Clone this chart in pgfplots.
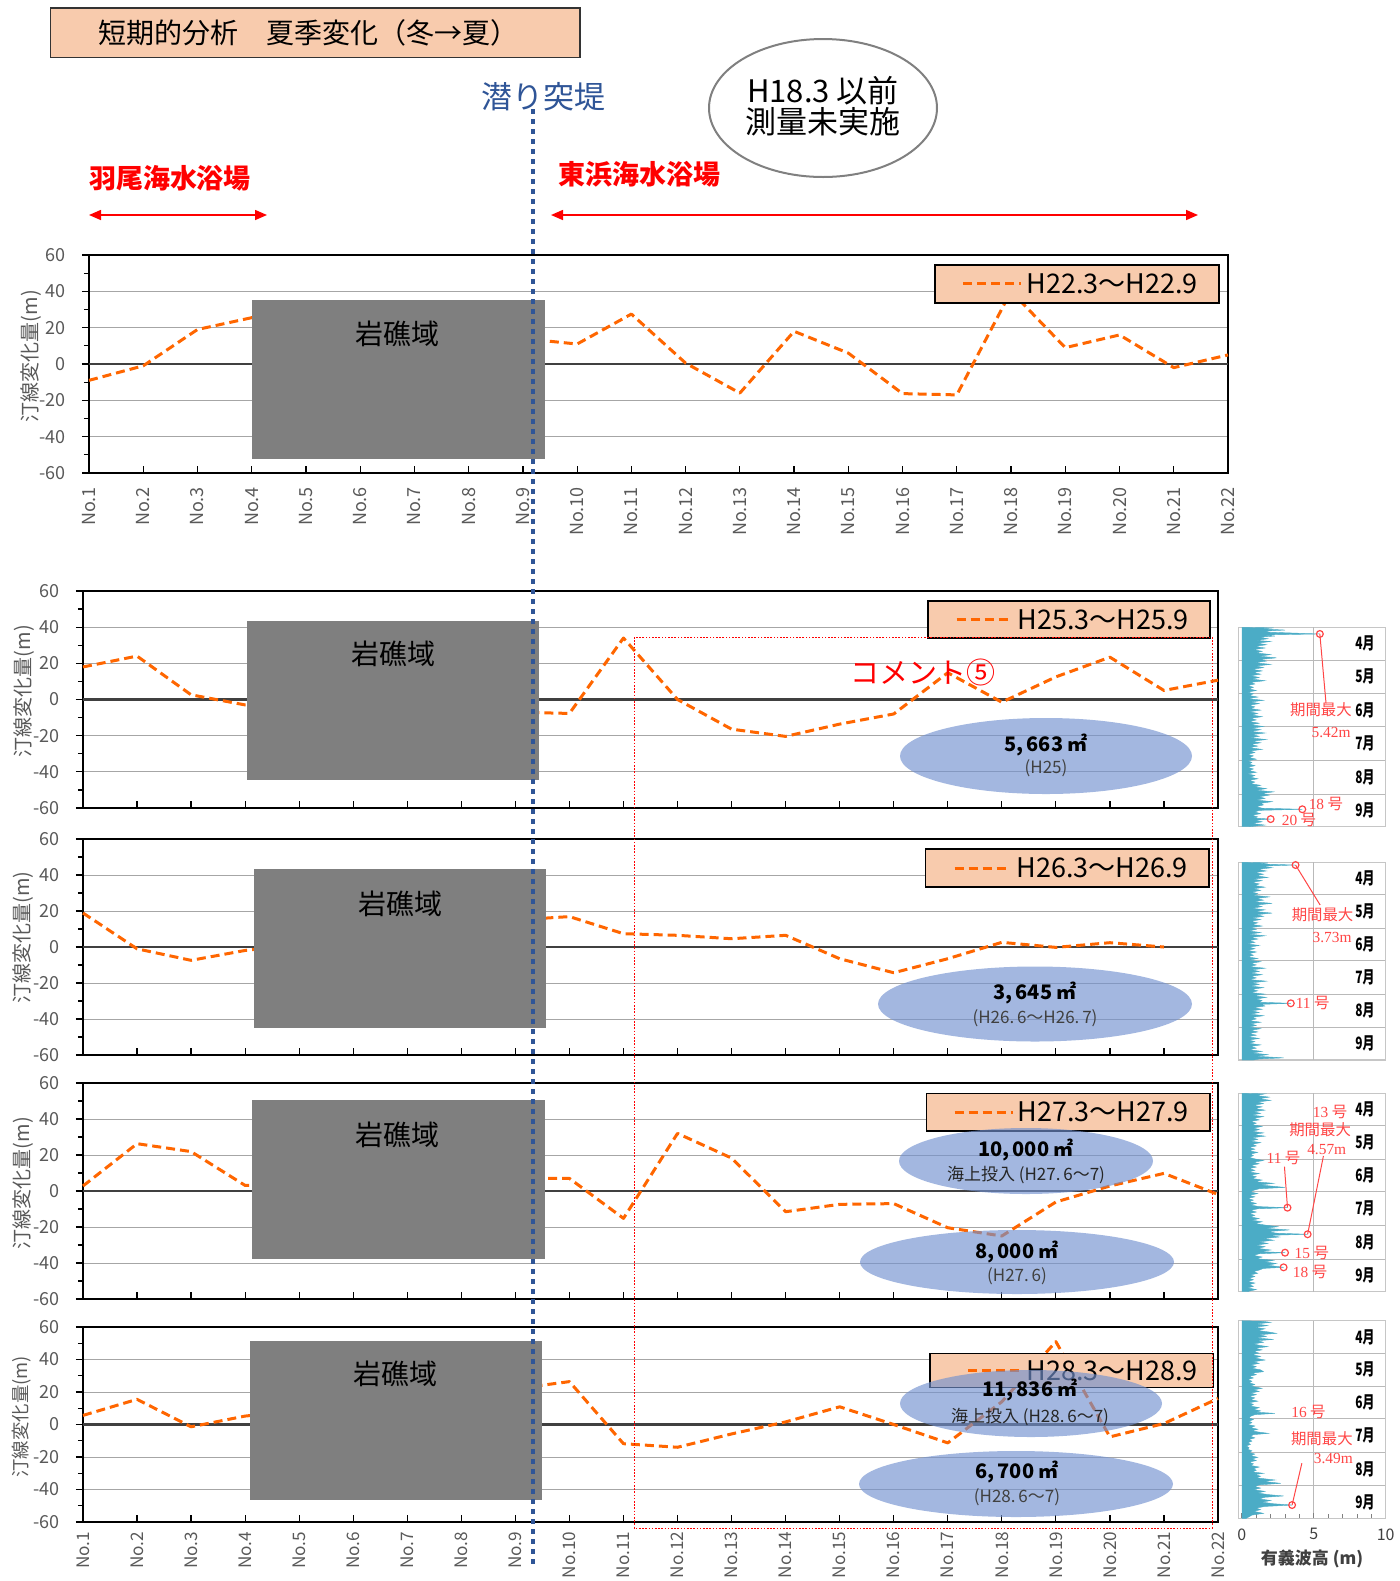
\documentclass[border=0pt]{standalone}
\usepackage{fontspec}
\usepackage{graphicx}
\usepackage{pgfplots}
\pgfplotsset{compat=1.18}
\usepackage{pgfplotstable}
\usetikzlibrary{arrows.meta}
\setmainfont{Noto Sans CJK JP}
\newfontfamily\tnr{Liberation Serif}
\newcommand{\fs}[1]{\fontsize{#1}{#1}\selectfont}

\definecolor{lineorange}{RGB}{255,102,0}
\definecolor{peach}{RGB}{248,203,173}
\definecolor{reefgray}{RGB}{127,127,127}
\definecolor{jetty}{RGB}{47,85,151}
\definecolor{ticktext}{RGB}{89,89,89}
\definecolor{gridgray}{RGB}{166,166,166}
\definecolor{zeroline}{RGB}{64,64,64}
\definecolor{sandblue}{RGB}{114,145,207}
\definecolor{wavecol}{RGB}{75,172,198}
\definecolor{note}{RGB}{255,70,70}
\definecolor{darktext}{RGB}{64,64,64}

% ---------- shoreline change (m) at survey lines No.1 - No.22 ----------
\pgfplotstableread{
no dy
1 -9
2 -1
3 19
4 25.5
9 14
10 11
11 27.5
12 0.5
13 -16
14 18
15 6
16 -16.3
17 -17
18 40
19 9
20 16
21 -2
22 5
}\shoreA
\pgfplotstableread{
no dy
1 18
2 24
3 2.6
4 -3
9 -7
10 -7.7
11 34
12 0
13 -16.4
14 -20.4
15 -13.6
16 -8
17 14.8
18 -1.5
19 12.5
20 23.4
21 5
22 10.7
}\shoreB
\pgfplotstableread{
no dy
1 18.9
2 -1
3 -7.4
4 -1.9
9 15
10 16.9
11 7.4
12 6.5
13 4.6
14 6.5
15 -6.5
16 -14.3
17 -6.5
18 2.6
19 -0.2
20 2.4
21 0
}\shoreC
\pgfplotstableread{
no dy
1 2.8
2 26.3
3 21.9
4 3.1
9 6.9
10 7
11 -15.2
12 32
13 18.3
14 -11.5
15 -7.4
16 -7
17 -20.4
18 -25
19 -6.1
20 2.8
21 9.8
22 -1.9
}\shoreD
\pgfplotstableread{
no dy
1 5.6
2 15.5
3 -1.4
4 5.2
9 22
10 26.4
11 -11.8
12 -14
13 -5.8
14 1.6
15 10.9
16 0
17 -11.3
18 14
19 51
20 -7.6
21 0.6
22 16
}\shoreE

% ---------- significant wave height (m), day counted from 1 April ----------
\pgfplotstableread[row sep=\\]{
d h\\ 0 0\\ 0.5 2.2\\ 1.5 1.4\\ 2.5 3.0\\ 3.5 1.6\\ 4.5 1.9\\ 6.1 5.42\\ 7 1.5\\ 8 2.3\\ 9 1.2\\ 10.5 1.8\\ 12 1.0\\ 13 2.0\\ 14.5 1.1\\ 16 1.7\\ 17.5 0.9\\ 19 1.6\\ 20.5 0.8\\ 22 1.4\\ 23.5 1.0\\ 25 2.0\\ 26.5 1.2\\ 28 2.4\\ 29.5 1.3\\
31 1.7\\ 32.5 0.9\\ 34 2.0\\ 35.5 1.0\\ 37 1.5\\ 38.5 0.7\\ 40 1.4\\ 41.5 0.8\\ 43 1.3\\ 44.5 0.6\\ 46 1.2\\ 47.5 0.7\\ 49 1.6\\ 50.5 0.6\\ 52 0.9\\ 53.5 0.4\\ 55 0.8\\ 56.5 0.5\\ 58 1.0\\ 59.5 0.4\\
61 0.8\\ 62.5 0.5\\ 64 1.1\\ 65.5 0.4\\ 67 1.5\\ 68.5 0.6\\ 70 1.2\\ 71.5 0.5\\ 73 0.9\\ 74.5 0.6\\ 76 1.3\\ 77.5 0.5\\ 79 1.1\\ 80.5 0.7\\ 82 1.4\\ 83.5 0.6\\ 85 1.0\\ 86.5 0.5\\ 88 1.2\\ 89.5 0.6\\
91 1.5\\ 92.5 0.7\\ 94 1.3\\ 95.5 0.6\\ 97 1.6\\ 98.5 0.7\\ 100 1.2\\ 101.5 0.6\\ 103 1.7\\ 104.5 0.7\\ 106 1.3\\ 107.5 0.6\\ 109 1.1\\ 110.5 0.5\\ 112 1.4\\ 113.5 0.6\\ 115 0.9\\ 116.5 0.4\\ 118 0.8\\ 119.5 0.5\\
121 1.0\\ 122.5 0.4\\ 124 0.7\\ 125.5 0.5\\ 127 0.9\\ 128.5 0.4\\ 130 0.8\\ 131.5 0.5\\ 133 1.0\\ 134.5 0.4\\ 136 0.9\\ 137.5 0.6\\ 139 1.1\\ 140.5 0.5\\ 142 0.9\\ 143.5 0.6\\ 145 1.3\\ 146.5 0.9\\ 148 1.7\\ 149.5 1.0\\ 151 2.2\\
152.5 1.4\\ 154 1.9\\ 155.5 1.2\\ 157 1.6\\ 158.5 1.0\\ 160 2.1\\ 161.5 1.3\\ 163 1.5\\ 164.5 1.0\\ 166 1.4\\ 167 4.2\\ 168 1.2\\ 169.5 0.9\\ 171 1.3\\ 172.5 0.7\\ 174 1.1\\ 175 0.8\\ 176 2.0\\ 177 0.9\\ 178.5 1.4\\ 180 0.7\\ 181.5 1.6\\ 183 0.5\\ 183 0\\
}\waveA
\pgfplotstableread[row sep=\\]{
d h\\ 0 0\\ 0.5 1.8\\ 1.5 1.2\\ 2.5 3.73\\ 3.5 1.4\\ 5 2.1\\ 6.5 1.1\\ 8 1.7\\ 9.5 0.9\\ 11 1.5\\ 12.5 1.0\\ 14 1.8\\ 15.5 0.8\\ 17 1.4\\ 18.5 0.7\\ 20 1.2\\ 21.5 0.9\\ 23 1.6\\ 24.5 0.8\\ 26 1.3\\ 27.5 0.7\\ 29 1.1\\
30.5 0.8\\ 32 1.9\\ 33.5 1.0\\ 35 1.5\\ 36.5 0.8\\ 38 2.1\\ 39.5 1.0\\ 41 1.4\\ 42.5 0.7\\ 44 1.6\\ 45.5 0.9\\ 47 2.1\\ 48.5 1.0\\ 50 1.5\\ 51.5 0.7\\ 53 1.3\\ 54.5 0.6\\ 56 1.1\\ 57.5 0.7\\ 59 1.4\\
60.5 0.6\\ 62 1.0\\ 63.5 0.5\\ 65 1.3\\ 66.5 0.5\\ 68 1.6\\ 69.5 0.6\\ 71 1.1\\ 72.5 0.5\\ 74 0.9\\ 75.5 0.4\\ 77 1.2\\ 78.5 0.5\\ 80 0.9\\ 81.5 0.4\\ 83 1.0\\ 84.5 0.5\\ 86 0.8\\ 87.5 0.4\\ 89 1.1\\
90.5 0.5\\ 92 1.3\\ 93.5 0.6\\ 95 1.0\\ 96.5 0.5\\ 98 1.6\\ 99.5 0.7\\ 101 1.2\\ 102.5 0.6\\ 104 1.4\\ 105.5 0.6\\ 107 1.0\\ 108.5 0.5\\ 110 1.7\\ 111.5 0.7\\ 113 1.2\\ 114.5 0.6\\ 116 1.5\\ 117.5 0.7\\ 119 1.1\\
120.5 0.6\\ 122 1.6\\ 123.5 0.8\\ 125 1.7\\ 126.5 1.0\\ 128 1.4\\ 129.5 1.2\\ 130.5 3.4\\ 131.5 1.3\\ 133 1.6\\ 134.5 0.8\\ 136 1.4\\ 137.5 0.7\\ 139 1.2\\ 140.5 0.6\\ 142 1.5\\ 143.5 0.7\\ 145 1.0\\ 146.5 0.5\\ 148 1.3\\ 149.5 0.6\\
151 1.0\\ 152.5 0.5\\ 154 1.3\\ 155.5 0.6\\ 157 1.1\\ 158.5 0.5\\ 160 1.0\\ 161.5 0.4\\ 163 1.2\\ 164.5 0.5\\ 166 0.9\\ 167.5 0.5\\ 169 1.3\\ 170.5 0.6\\ 172 1.0\\ 173.5 0.5\\ 175 1.4\\ 176.5 0.7\\ 178 1.8\\ 179.5 1.0\\ 181 2.9\\ 182 1.2\\ 183 0.8\\ 183 0\\
}\waveB
\pgfplotstableread[row sep=\\]{
d h\\ 0 0\\ 0.5 1.6\\ 2 1.0\\ 3.5 1.9\\ 5 1.2\\ 6.5 2.0\\ 8 1.1\\ 9.5 1.5\\ 11 0.8\\ 12.5 1.4\\ 14 0.9\\ 15.5 1.6\\ 17 0.8\\ 18.5 1.3\\ 20 0.7\\ 21.5 1.5\\ 23 0.8\\ 24.5 1.2\\ 26 0.6\\ 27.5 1.0\\ 29 0.7\\
30.5 1.4\\ 32 0.8\\ 33.5 1.2\\ 35 0.7\\ 36.5 1.5\\ 38 0.8\\ 39.5 1.6\\ 41 0.7\\ 42.5 1.1\\ 44 0.6\\ 45.5 1.3\\ 47 0.7\\ 48.5 1.0\\ 50 0.5\\ 51.5 0.9\\ 53 0.5\\ 54.5 1.1\\ 56 0.6\\ 57.5 0.8\\ 59 0.5\\
60.5 0.9\\ 62 1.5\\ 63.5 0.8\\ 65 1.2\\ 66.5 0.6\\ 68 1.0\\ 69.5 0.5\\ 71 0.9\\ 72.5 0.5\\ 74 1.2\\ 75.5 0.6\\ 77 1.0\\ 78.5 0.7\\ 80 1.4\\ 81.5 0.9\\ 83 2.2\\ 84.5 1.3\\ 85.5 2.0\\ 86.8 3.0\\ 88 1.2\\ 89.5 0.8\\
91 0.6\\ 92.5 1.1\\ 94 0.5\\ 95.5 0.9\\ 97 0.4\\ 98.5 0.8\\ 100 0.5\\ 101.5 1.0\\ 103 0.6\\ 104.5 1.2\\ 105.5 3.17\\ 106.5 1.1\\ 108 0.6\\ 109.5 1.0\\ 111 0.5\\ 112.5 0.9\\ 114 0.6\\ 115.5 1.2\\ 117 0.7\\ 118.5 1.4\\ 120 0.9\\
121.5 1.6\\ 123 2.5\\ 124.5 1.6\\ 126 3.3\\ 127.5 1.8\\ 129 2.4\\ 130 4.57\\ 131 1.9\\ 132.5 2.6\\ 134 1.5\\ 135.5 2.2\\ 137 1.2\\ 138.5 1.8\\ 140 1.0\\ 141.5 1.6\\ 143 1.1\\ 144.5 2.0\\ 146 1.3\\ 147 3.0\\ 148 1.2\\ 149.5 0.8\\
151 1.4\\ 152.5 1.0\\ 154 2.2\\ 155.5 1.6\\ 157 2.4\\ 158.5 1.8\\ 160.5 2.9\\ 161.5 1.5\\ 163 1.2\\ 164.5 0.8\\ 166 1.1\\ 167.5 0.6\\ 169 0.9\\ 170.5 0.5\\ 172 0.8\\ 173.5 0.4\\ 175 0.9\\ 176.5 0.5\\ 178 0.8\\ 179.5 0.4\\ 181 1.0\\ 182.5 0.5\\ 183 0.4\\ 183 0\\
}\waveC
\pgfplotstableread[row sep=\\]{
d h\\ 0 0\\ 0.5 1.4\\ 1.5 2.0\\ 3 1.0\\ 4.5 1.8\\ 6 0.9\\ 7.5 1.6\\ 9 1.1\\ 10.5 1.9\\ 11.7 2.4\\ 13 1.2\\ 14.5 1.7\\ 16 1.0\\ 17.3 2.2\\ 18.5 1.1\\ 20 1.5\\ 21.5 0.8\\ 23 1.3\\ 24 1.8\\ 25.5 0.9\\ 27 1.4\\ 28.5 0.8\\
30 1.2\\ 31.5 0.7\\ 33 1.3\\ 34.5 0.9\\ 36.4 1.6\\ 38 0.8\\ 39.5 1.2\\ 41 0.6\\ 42.5 1.0\\ 44 0.7\\ 45.5 1.3\\ 47.2 1.5\\ 48.5 0.7\\ 50 1.0\\ 51.5 0.5\\ 53 0.8\\ 54.5 0.4\\ 56 0.7\\ 57.5 0.5\\ 59 0.9\\
60.5 0.6\\ 62.6 1.4\\ 64 0.8\\ 65.5 1.2\\ 67 0.6\\ 68.5 1.0\\ 70 0.5\\ 71.5 0.9\\ 73 0.6\\ 74.5 1.1\\ 76 0.5\\ 77.5 0.8\\ 79 0.6\\ 80.5 1.2\\ 82 0.8\\ 83.5 1.3\\ 84.7 1.0\\ 85.8 2.3\\ 87 0.9\\ 88.5 0.6\\
90 0.5\\ 91.5 0.8\\ 93 0.5\\ 94.5 0.7\\ 96 0.4\\ 97.5 0.9\\ 99 0.6\\ 100.5 1.1\\ 102 0.7\\ 103.2 1.2\\ 104.3 1.85\\ 105.5 0.8\\ 107 0.6\\ 108.5 0.9\\ 110 0.5\\ 111.5 0.7\\ 113 0.4\\ 114.5 0.6\\ 116 0.3\\ 117.5 0.5\\ 119 0.4\\
120.5 0.7\\ 122 0.5\\ 123.5 0.9\\ 125 0.6\\ 126.5 1.1\\ 128 0.7\\ 129.5 1.0\\ 131 0.5\\ 132.5 0.8\\ 134 0.6\\ 135.5 1.2\\ 137 0.8\\ 138.5 1.0\\ 140 0.7\\ 141.3 1.5\\ 142.5 0.9\\ 144 1.3\\ 145.5 1.0\\ 147.5 2.3\\ 148.8 1.5\\ 150.6 2.7\\
152 1.2\\ 153.5 0.9\\ 155 1.3\\ 156.5 0.8\\ 158 1.6\\ 159.5 1.1\\ 161 1.8\\ 162.3 2.9\\ 163.5 1.6\\ 165 1.2\\ 166.5 2.0\\ 168 1.4\\ 169.5 2.2\\ 170.7 3.49\\ 172 1.6\\ 173.5 1.0\\ 175 1.3\\ 176.5 0.8\\ 178.4 1.5\\ 180 0.7\\ 181.5 0.5\\ 183 0.3\\ 183 0\\
}\waveD

\tikzset{
  lead/.style={note, line width=0.5pt},
  notetext/.style={note, font=\fs{7.7pt}, inner sep=0pt},
  monthtext/.style={font=\fs{8.5pt}\bfseries},
}

\pgfplotsset{
  /pgf/number format/assume math mode=true,
  shoreaxis/.style={
    scale only axis, width=567.5pt,
    xmin=1, xmax=22, ymin=-60, ymax=60,
    xtick={1,...,22},
    ytick={-60,-40,...,60}, minor y tick num=1,
    tick pos=left, tick align=outside,
    major tick length=3.5pt, minor tick length=2.5pt,
    tick style={black, line width=0.6pt},
    major x tick style={yshift=3.5pt},
    ymajorgrids, major grid style={gridgray, line width=0.5pt},
    extra y ticks={0}, extra y tick labels={},
    extra y tick style={grid=major, major grid style={zeroline, line width=1.1pt}},
    axis line style={black, line width=0.9pt},
    yticklabel style={font=\fs{9pt}, color=ticktext, xshift=-4.5pt},
    clip=false,
  },
  nolabels/.style={xticklabels={}},
  stationlabels/.style={
    xticklabel={\pgfmathtruncatemacro{\stn}{\tick}No.\stn},
    xticklabel style={font=\fs{9pt}, color=ticktext, rotate=90, anchor=east},
  },
  shoreline/.style={lineorange, line width=1.5pt, dash pattern=on 4.5pt off 2.5pt, line join=round},
  waveaxis/.style={
    scale only axis, width=73.7pt,
    xmin=-0.25, xmax=10, ymin=0, ymax=183, y dir=reverse,
    xtick=\empty, xticklabels={},
    ytick={0,30,61,91,122,153,183}, yticklabels={},
    ymajorgrids, major grid style={gray!55, line width=0.5pt},
    extra x ticks={5}, extra x tick labels={}, extra x tick style={grid=major},
    axis line style={gray!45, line width=0.7pt},
    major tick length=0pt, minor tick length=0pt,
    tick pos=left,
    clip=false,
  },
  waveplot/.style={fill=wavecol, draw=wavecol, line width=0.2pt},
  peakmark/.style={only marks, mark=o, mark size=1.7pt, note, mark options={line width=0.6pt, fill=white}},
}

\newcommand{\months}{%
  \node[monthtext] at (axis cs:8.56,15) {\scalebox{0.7}[1]{4月}};
  \node[monthtext] at (axis cs:8.56,45.5) {\scalebox{0.7}[1]{5月}};
  \node[monthtext] at (axis cs:8.56,76) {\scalebox{0.7}[1]{6月}};
  \node[monthtext] at (axis cs:8.56,106.5) {\scalebox{0.7}[1]{7月}};
  \node[monthtext] at (axis cs:8.56,137.5) {\scalebox{0.7}[1]{8月}};
  \node[monthtext] at (axis cs:8.56,168) {\scalebox{0.7}[1]{9月}};
}

% legend box: x1 y1 x2 y2, sample line from x to x, text left edge, text
\newcommand{\legendbox}[8]{%
  \draw[black, line width=0.8pt, fill=peach] (#1,#2) rectangle (#3,#4);
  \draw[lineorange, line width=1.5pt, dash pattern=on 4.5pt off 2.5pt] (#5,{(#2+#4)/2}) -- (#6,{(#2+#4)/2});
  \node[anchor=west, inner sep=0pt, font=\fs{13.5pt}] at (#7,{(#2+#4)/2}) {#8};
}
% nourishment volume ellipse: centre, radii (px)
\newcommand{\sandfill}[4]{%
  \fill[sandblue, fill opacity=0.65] (#1,#2) ellipse [x radius={#3*0.5pt}, y radius={#4*0.5pt}];
}
\newcommand{\reef}[6]{%
  \fill[reefgray] (#1,#2) rectangle (#3,#4);
  \node[font=\fs{14pt}, inner sep=0pt] at (#5,#6) {岩礁域};
}

\begin{document}
\begin{tikzpicture}
\useasboundingbox (0,0) rectangle (699.5pt,-790.5pt);

% ---------------- shoreline panels ----------------
\begin{axis}[shoreaxis, stationlabels, width=569.5pt, height=109pt, at={(44.5pt,-236.5pt)}, anchor=south west]
\addplot[shoreline] table[x=no,y=dy]{\shoreA};
\end{axis}
\begin{axis}[shoreaxis, nolabels, height=108.5pt, at={(41.5pt,-404pt)}, anchor=south west]
\addplot[shoreline] table[x=no,y=dy]{\shoreB};
\end{axis}
\begin{axis}[shoreaxis, nolabels, height=108pt, at={(41.5pt,-527.5pt)}, anchor=south west]
\addplot[shoreline] table[x=no,y=dy]{\shoreC};
\end{axis}
\begin{axis}[shoreaxis, nolabels, height=108pt, at={(41.5pt,-649.5pt)}, anchor=south west]
\addplot[shoreline] table[x=no,y=dy]{\shoreD};
\end{axis}
\begin{axis}[shoreaxis, stationlabels, height=97.5pt, at={(41.5pt,-761pt)}, anchor=south west,
  xticklabel style={font=\fs{8.6pt}, inner xsep=1.2pt}]
\addplot[shoreline] table[x=no,y=dy]{\shoreE};
\end{axis}

% ---------------- wave height panels ----------------
\begin{axis}[waveaxis, height=99.7pt, at={(619.15pt,-413.35pt)}, anchor=south west]
\addplot[waveplot] table[x=h,y=d]{\waveA};
\months
\draw[lead] (axis cs:5.42,6.1) -- (axis cs:5.85,69.8);
\addplot[peakmark] coordinates {(5.42,6.1) (4.2,167) (2.0,176)};
\node[notetext] at (axis cs:5.5,75.9) {期間最大};
\node[notetext] at (axis cs:6.2,96.7) {\tnr 5.42m};
\node[notetext] at (axis cs:5.84,162) {{\tnr 18} 号};
\node[notetext] at (axis cs:3.97,176.8) {{\tnr 20} 号};
\end{axis}

\begin{axis}[waveaxis, height=98.85pt, at={(619.15pt,-530pt)}, anchor=south west]
\addplot[waveplot] table[x=h,y=d]{\waveB};
\months
\draw[lead] (axis cs:3.73,2.5) -- (axis cs:5.44,39.5);
\addplot[peakmark] coordinates {(3.73,2.5) (3.4,130.5)};
\node[notetext] at (axis cs:5.61,48.8) {期間最大};
\node[notetext] at (axis cs:6.27,69.4) {\tnr 3.73m};
\node[notetext] at (axis cs:4.92,130.5) {{\tnr 11} 号};
\end{axis}

\begin{axis}[waveaxis, height=99.2pt, at={(619.15pt,-645.85pt)}, anchor=south west]
\addplot[waveplot] table[x=h,y=d]{\waveC};
\months
\draw[lead] (axis cs:2.96,67.7) -- (axis cs:3.17,105.5);
\draw[lead] (axis cs:5.67,57.8) -- (axis cs:4.57,130);
\addplot[peakmark] coordinates {(3.17,105.5) (4.57,130) (3.0,147) (2.9,160.5)};
\node[notetext] at (axis cs:6.13,17.5) {{\tnr 13} 号};
\node[notetext] at (axis cs:5.44,33.9) {期間最大};
\node[notetext] at (axis cs:5.9,51.4) {\tnr 4.57m};
\node[notetext] at (axis cs:2.89,60) {{\tnr 11} 号};
\node[notetext] at (axis cs:4.86,147.6) {{\tnr 15} 号};
\node[notetext] at (axis cs:4.74,164.6) {{\tnr 18} 号};
\end{axis}

\begin{axis}[waveaxis, height=98.8pt, at={(619.15pt,-759.15pt)}, anchor=south west,
  xtick={0,5,10}, xticklabels={0,5,10}, minor x tick num=4,
  major tick length=2.5pt, minor tick length=2pt,
  major x tick style={gray, line width=0.5pt}, minor x tick style={gray, line width=0.4pt},
  major y tick style={draw=none},
  xticklabel style={font=\fs{8pt}, color=darktext, yshift=-1.5pt},
  xlabel={有義波高\ (m)}, xlabel style={font=\fs{8.5pt}\bfseries, color=darktext, yshift=2pt}]
\addplot[waveplot] table[x=h,y=d]{\waveD};
\months
\draw[lead] (axis cs:4.17,132) -- (axis cs:3.49,170.7);
\addplot[peakmark] coordinates {(3.49,170.7)};
\node[notetext] at (axis cs:4.63,84.3) {{\tnr 16} 号};
\node[notetext] at (axis cs:5.56,108.9) {期間最大};
\node[notetext] at (axis cs:6.36,127.4) {\tnr 3.49m};
\end{axis}

% ---------------- overlays, positioned in pixel units ----------------
\begin{scope}[x=0.5pt, y=-0.5pt]
  % y-axis titles
  \node[rotate=90, color=ticktext, font=\fs{10pt}] at (31,356) {汀線変化量(m)};
  \node[rotate=90, color=ticktext, font=\fs{10pt}] at (24,691) {汀線変化量(m)};
  \node[rotate=90, color=ticktext, font=\fs{10pt}] at (23,937.5) {汀線変化量(m)};
  \node[rotate=90, color=ticktext, font=\fs{10pt}] at (23,1183) {汀線変化量(m)};
  \node[rotate=90, color=ticktext, font=\fs{9.2pt}] at (22,1416.7) {汀線変化量(m)};

  % reef areas
  \reef{252}{300}{544.6}{459}{397}{334}
  \reef{247}{621}{539}{780}{393}{654}
  \reef{254}{869}{545.5}{1027.7}{400}{904}
  \reef{252}{1100}{544.6}{1259}{397}{1135}
  \reef{250}{1341}{542}{1500}{395}{1374}

  % legends
  \legendbox{935}{265}{1219}{302.7}{963}{1021}{1026}{H22.3～H22.9}
  \legendbox{927.7}{601}{1210}{638}{956.7}{1012.5}{1017}{H25.3～H25.9}
  \legendbox{925.4}{849}{1208.9}{887}{954.5}{1010}{1016}{H26.3～H26.9}
  \legendbox{926.3}{1093.3}{1209.8}{1131}{954.5}{1012.5}{1017}{H27.3～H27.9}
  \legendbox{930}{1353.3}{1213.4}{1387.3}{968}{1021}{1026}{H28.3～H28.9}

  % nourishment volumes
  \sandfill{1046}{756}{146}{38}
  \sandfill{1035}{1004}{157}{37.5}
  \sandfill{1026}{1161}{127}{33}
  \sandfill{1017}{1262}{157}{32}
  \sandfill{1031}{1403.5}{131}{33.5}
  \sandfill{1016}{1484}{157}{33}
  \begin{scope}[every node/.style={inner sep=0pt}]
    \node[font=\fs{10pt}\bfseries] at (1046,745) {5,\,663 ㎡};
    \node[font=\fs{8.5pt}, color=darktext] at (1046,768.3) {(H25)};
    \node[font=\fs{10pt}\bfseries] at (1035,993) {3,\,645 ㎡};
    \node[font=\fs{8.5pt}, color=darktext] at (1035,1018) {(H26.\,6～H26.\,7)};
    \node[font=\fs{10pt}\bfseries] at (1026,1150) {10,\,000 ㎡};
    \node[font=\fs{8.5pt}, color=black!85] at (1026,1175) {海上投入 (H27.\,6～7)};
    \node[font=\fs{10pt}\bfseries] at (1017,1251.7) {8,\,000 ㎡};
    \node[font=\fs{8.5pt}, color=darktext] at (1017,1276) {(H27.\,6)};
    \node[font=\fs{10pt}\bfseries] at (1030,1390) {11,\,836 ㎡};
    \node[font=\fs{8.5pt}, color=black!85] at (1030,1416.7) {海上投入 (H28.\,6～7)};
    \node[font=\fs{10pt}\bfseries] at (1017,1471.7) {6,\,700 ㎡};
    \node[font=\fs{8.5pt}, color=darktext] at (1017,1496.7) {(H28.\,6～7)};
  \end{scope}

  % heading
  \draw[black!80, line width=0.7pt, fill=peach] (50.4,8) rectangle (580,57.5);
  \node[font=\fs{14pt}] at (308,33) {短期的分析　夏季変化（冬→夏）};
  \node[font=\fs{15.5pt}, color=jetty] at (543,97) {潜り突堤};
  \draw[gray, line width=1pt, fill=white] (823,108) ellipse [x radius=57pt, y radius=34.5pt];
  \node[font=\fs{15.5pt}] at (823,91) {H18.3 以前};
  \node[font=\fs{15.5pt}] at (823,122) {測量未実施};

  % beaches
  \node[font=\fs{13.5pt}\bfseries, color=red] at (170,178) {羽尾海水浴場};
  \node[font=\fs{13.5pt}\bfseries, color=red] at (639,174) {東浜海水浴場};
  \draw[red, line width=0.8pt, {Triangle[length=6pt,width=5pt]}-{Triangle[length=6pt,width=5pt]}] (89,215) -- (267,215);
  \draw[red, line width=0.8pt, {Triangle[length=6pt,width=5pt]}-{Triangle[length=6pt,width=5pt]}] (551,215) -- (1198,215);

  % comment frame
  \node[font=\fs{14.5pt}, color=red] at (923,672) {コメント⑤};
  \draw[red, line width=0.5pt, dash pattern=on 0.8pt off 0.8pt] (634,637) rectangle (1212,1528);

  % submerged jetty
  \draw[jetty, line width=2.2pt, dash pattern=on 2.5pt off 2.5pt] (533,109) -- (533,1565);
\end{scope}
\end{tikzpicture}
\end{document}
